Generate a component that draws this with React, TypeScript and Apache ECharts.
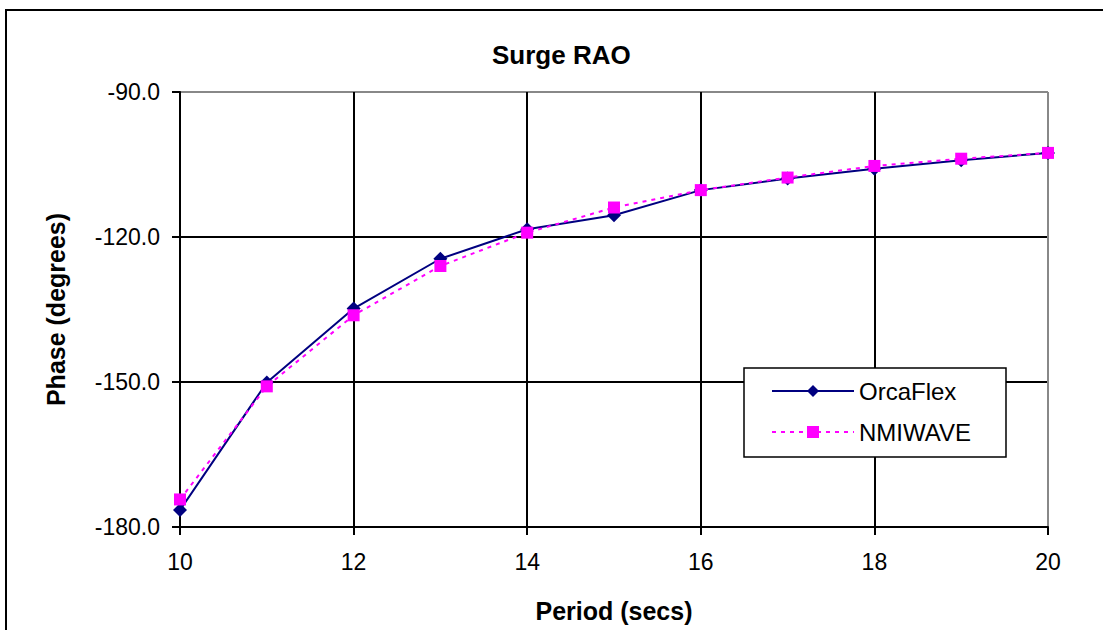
import React, { useEffect, useRef } from "react";
import * as echarts from "echarts";

const periods = [10, 11, 12, 13, 14, 15, 16, 17, 18, 19, 20];
const orcaFlex = [-176.5, -150.1, -134.8, -124.5, -118.4, -115.5, -110.3, -107.9, -105.9, -104.1, -102.6];
const nmiwave = [-174.3, -150.9, -136.2, -126.0, -119.1, -113.9, -110.3, -107.7, -105.3, -103.8, -102.6];
const seriesNames = ["OrcaFlex", "NMIWAVE"];

const FONT = "'Liberation Sans', Arial, sans-serif";

export default function App() {
  const ref = useRef<HTMLDivElement>(null);
  useEffect(() => {
    document.body.style.margin = "0";
    const chart = echarts.init(ref.current!, undefined, { renderer: "svg" });
    chart.setOption({
      animation: false,
      backgroundColor: "#ffffff",
      textStyle: { fontFamily: FONT },
      title: {
        text: "Surge RAO",
        left: 487,
        top: 37,
        textStyle: { fontFamily: FONT, fontSize: 26, fontWeight: "bold", color: "#000" },
      },
      grid: { left: 180, top: 92, width: 868, height: 435, containLabel: false },
      graphic: [
        {
          type: "rect",
          shape: { x: 6, y: 10, width: 1200, height: 700 },
          style: { fill: "none", stroke: "#000", lineWidth: 2 },
          z: 100,
        },
      ],
      legend: {
        left: 744,
        top: 368,
        orient: "vertical",
        backgroundColor: "#fff",
        borderColor: "#000",
        borderWidth: 1.5,
        padding: [11, 35, 13, 27],
        itemWidth: 82,
        itemHeight: 15,
        itemGap: 17,
        textStyle: { fontFamily: FONT, fontSize: 24, color: "#000" },
        data: seriesNames,
      },
      xAxis: {
        type: "value",
        min: 10,
        max: 20,
        interval: 2,
        name: "Period (secs)",
        nameLocation: "middle",
        nameGap: 71,
        nameTextStyle: { fontFamily: FONT, fontSize: 25, fontWeight: "bold", color: "#000" },
        axisLine: { show: true, lineStyle: { color: "#000", width: 2 } },
        axisTick: { show: true, inside: false, length: 8, lineStyle: { color: "#000", width: 2 } },
        axisLabel: { fontFamily: FONT, fontSize: 23, color: "#000", margin: 23 },
        splitLine: {
          show: true,
          lineStyle: { color: ["#000", "#000", "#000", "#000", "#000", "#888"], width: 2 },
        },
      },
      yAxis: {
        type: "value",
        min: -180,
        max: -90,
        interval: 30,
        name: "Phase (degrees)",
        nameLocation: "middle",
        nameGap: 112,
        nameTextStyle: { fontFamily: FONT, fontSize: 25, fontWeight: "bold", color: "#000" },
        axisLine: { show: true, lineStyle: { color: "#000", width: 2 } },
        axisTick: { show: true, inside: false, length: 8, lineStyle: { color: "#000", width: 2 } },
        axisLabel: {
          fontFamily: FONT,
          fontSize: 23,
          color: "#000",
          margin: 20,
          formatter: (v: number) => v.toFixed(1),
        },
        splitLine: {
          show: true,
          lineStyle: { color: ["#000", "#000", "#000", "#888"], width: 2 },
        },
      },
      series: [
        {
          name: seriesNames[0],
          type: "line",
          data: periods.map((p, i) => [p, orcaFlex[i]]),
          symbol: "diamond",
          symbolSize: 14,
          itemStyle: { color: "#000080" },
          lineStyle: { color: "#000080", width: 2 },
          z: 3,
        },
        {
          name: seriesNames[1],
          type: "line",
          data: periods.map((p, i) => [p, nmiwave[i]]),
          symbol: "rect",
          symbolSize: 12,
          itemStyle: { color: "#ff00ff" },
          lineStyle: { color: "#ff00ff", width: 2, type: [4, 5] },
          z: 4,
        },
      ],
    });
    return () => chart.dispose();
  }, []);
  return <div ref={ref} style={{ position: "fixed", left: 0, top: 0, width: 1103, height: 630 }} />;
}
